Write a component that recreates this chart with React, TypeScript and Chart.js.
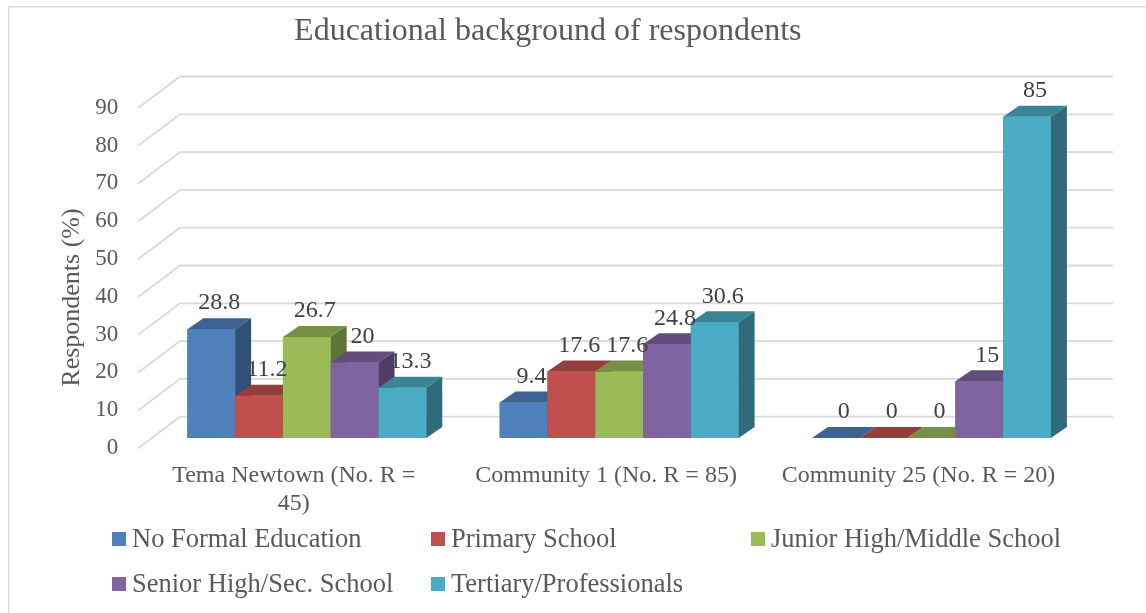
import React, { useEffect, useRef } from 'react';
import { Chart, registerables } from 'chart.js';

Chart.register(...registerables);

const FONT = "'Liberation Serif', 'Times New Roman', Times, serif";
const TEXT_GREY = '#595959';
const LABEL_DARK = '#404040';
const GRID_GREY = '#D9D9D9';

// ---- data ----
const chartTitle = 'Educational background of respondents';
const yAxisTitle = 'Respondents (%)';
const categories: (string | string[])[] = [
  ['Tema Newtown (No. R =', '45)'],
  'Community 1 (No. R = 85)',
  'Community 25 (No. R = 20)',
];
const seriesNames = [
  'No Formal Education',
  'Primary School',
  'Junior High/Middle School',
  'Senior High/Sec. School',
  'Tertiary/Professionals',
];
const noFormalEducation = [28.8, 9.4, 0];
const primarySchool = [11.2, 17.6, 0];
const juniorHighMiddle = [26.7, 17.6, 0];
const seniorHighSec = [20, 24.8, 15];
const tertiaryProfessional = [13.3, 30.6, 85];
const yTicks = [0, 10, 20, 30, 40, 50, 60, 70, 80, 90];
const seriesColors = ['#4F81BD', '#C0504D', '#9BBB59', '#8064A2', '#4BACC6'];

const seriesValues = [
  noFormalEducation,
  primarySchool,
  juniorHighMiddle,
  seniorHighSec,
  tertiaryProfessional,
];

// ---- 3D look ----
const BAR_DX = 16; // bar depth, horizontal
const BAR_DY = 11; // bar depth, vertical
const WALL_FRONT_X = -12.65; // floor/wall diagonal, front end (relative to chartArea.left)
const WALL_BACK_X = 29.35; // back wall start (relative to chartArea.left)
const WALL_FRONT_DY = 10.3;
const WALL_BACK_DY = -21.3;
const WALL_RIGHT_EXTRA = 25.4;

// legend grid (canvas coords)
const LEGEND_COLS = [104, 423, 743];
const LEGEND_ROWS = [533, 578];
const LEGEND_PER_ROW = 3;

function shade(hex: string, f: number): string {
  const n = parseInt(hex.slice(1), 16);
  const r = Math.round(((n >> 16) & 255) * f);
  const g = Math.round(((n >> 8) & 255) * f);
  const b = Math.round((n & 255) * f);
  return `rgb(${r},${g},${b})`;
}

const threeDPlugin = {
  id: 'threeDBars',
  beforeDraw(chart: any) {
    const { ctx, width, height } = chart;
    ctx.save();
    ctx.fillStyle = '#ffffff';
    ctx.fillRect(0, 0, width, height);
    ctx.strokeStyle = GRID_GREY;
    ctx.lineWidth = 1.5;
    ctx.beginPath();
    ctx.moveTo(0.75, height);
    ctx.lineTo(0.75, 0.75);
    ctx.lineTo(width, 0.75);
    ctx.stroke();
    ctx.restore();
  },
  beforeDatasetsDraw(chart: any) {
    const { ctx, chartArea } = chart;
    const y = chart.scales.y;
    ctx.save();
    ctx.strokeStyle = GRID_GREY;
    ctx.lineWidth = 1.8;
    yTicks.forEach((v) => {
      const py = y.getPixelForValue(v);
      ctx.beginPath();
      ctx.moveTo(chartArea.left + WALL_FRONT_X, py + WALL_FRONT_DY);
      ctx.lineTo(chartArea.left + WALL_BACK_X, py + WALL_BACK_DY);
      ctx.lineTo(chartArea.right + WALL_RIGHT_EXTRA, py + WALL_BACK_DY);
      ctx.stroke();
    });
    ctx.restore();
  },
  afterDatasetsDraw(chart: any) {
    const { ctx } = chart;
    ctx.save();
    // left-to-right: front face, then top and side, so each next bar hides the previous side
    chart.data.datasets.forEach((ds: any, i: number) => {
      const meta = chart.getDatasetMeta(i);
      const top = shade(seriesColors[i], 0.77);
      const side = shade(seriesColors[i], 0.62);
      meta.data.forEach((bar: any) => {
        const p = bar.getProps(['x', 'y', 'base', 'width'], true);
        const l = p.x - p.width / 2;
        const r = p.x + p.width / 2;
        ctx.fillStyle = seriesColors[i];
        ctx.fillRect(l, p.y, r - l, p.base - p.y);
        ctx.fillStyle = top;
        ctx.beginPath();
        ctx.moveTo(l, p.y);
        ctx.lineTo(r, p.y);
        ctx.lineTo(r + BAR_DX, p.y - BAR_DY);
        ctx.lineTo(l + BAR_DX, p.y - BAR_DY);
        ctx.closePath();
        ctx.fill();
        if (p.base - p.y > 0.5) {
          ctx.fillStyle = side;
          ctx.beginPath();
          ctx.moveTo(r, p.y);
          ctx.lineTo(r + BAR_DX, p.y - BAR_DY);
          ctx.lineTo(r + BAR_DX, p.base - BAR_DY);
          ctx.lineTo(r, p.base);
          ctx.closePath();
          ctx.fill();
        }
      });
    });

    // value labels above the bars
    ctx.font = `24px ${FONT}`;
    ctx.fillStyle = LABEL_DARK;
    ctx.textAlign = 'center';
    ctx.textBaseline = 'middle';
    chart.data.datasets.forEach((ds: any, i: number) => {
      const meta = chart.getDatasetMeta(i);
      meta.data.forEach((bar: any, j: number) => {
        const p = bar.getProps(['x', 'y'], true);
        ctx.fillText(String(ds.data[j]), p.x + BAR_DX / 2, p.y - BAR_DY - 15);
      });
    });
    ctx.restore();
  },
  afterDraw(chart: any) {
    const { ctx } = chart;
    ctx.save();
    // y axis title
    ctx.font = `26px ${FONT}`;
    ctx.fillStyle = TEXT_GREY;
    ctx.textAlign = 'center';
    ctx.textBaseline = 'middle';
    ctx.translate(64, 291.5);
    ctx.rotate(-Math.PI / 2);
    ctx.fillText(yAxisTitle, 0, 0);
    ctx.restore();

    // legend
    ctx.save();
    ctx.font = `26.5px ${FONT}`;
    ctx.textBaseline = 'middle';
    ctx.textAlign = 'left';
    chart.data.datasets.forEach((ds: any, i: number) => {
      const cx = LEGEND_COLS[i % LEGEND_PER_ROW];
      const cy = LEGEND_ROWS[Math.floor(i / LEGEND_PER_ROW)];
      ctx.fillStyle = seriesColors[i];
      ctx.fillRect(cx, cy - 7, 14, 14);
      ctx.fillStyle = TEXT_GREY;
      ctx.fillText(ds.label, cx + 20, cy + 1);
    });
    ctx.restore();
  },
};

export default function App() {
  const canvasRef = useRef<HTMLCanvasElement | null>(null);

  useEffect(() => {
    if (!canvasRef.current) return;
    const chart = new Chart(canvasRef.current, {
      type: 'bar',
      data: {
        labels: categories,
        datasets: seriesNames.map((name, i) => ({
          label: name,
          data: seriesValues[i],
          backgroundColor: seriesColors[i],
          borderWidth: 0,
          categoryPercentage: 0.765,
          barPercentage: 1,
        })),
      },
      options: {
        responsive: false,
        animation: false,
        events: [],
        layout: { padding: { left: 0, right: 58.4, top: 0, bottom: 85 } },
        plugins: {
          legend: { display: false },
          tooltip: { enabled: false },
          title: {
            display: true,
            text: chartTitle,
            color: TEXT_GREY,
            font: { family: FONT, size: 32, weight: 'normal', lineHeight: 1 },
            padding: { top: 10, bottom: 49.8 },
          },
        },
        scales: {
          x: {
            grid: { display: false, drawTicks: false },
            border: { display: false },
            ticks: {
              color: TEXT_GREY,
              font: { family: FONT, size: 24, lineHeight: 1.15 },
              padding: 24.2,
              labelOffset: -13,
              maxRotation: 0,
              autoSkip: false,
            },
            afterFit: (scale: any) => {
              scale.height = 90;
            },
          },
          y: {
            min: 0,
            max: 90,
            grid: { display: false, drawTicks: false },
            border: { display: false },
            ticks: {
              stepSize: 10,
              color: TEXT_GREY,
              font: { family: FONT, size: 23 },
              padding: 32.35,
              labelOffset: 10,
            },
            afterFit: (scale: any) => {
              scale.width = 142.65;
            },
          },
        },
      },
      plugins: [threeDPlugin],
    });
    return () => chart.destroy();
  }, []);

  return (
    <div style={{ position: 'fixed', left: 8, top: 6, width: 1138, height: 607 }}>
      <canvas ref={canvasRef} width={1138} height={607} />
    </div>
  );
}
